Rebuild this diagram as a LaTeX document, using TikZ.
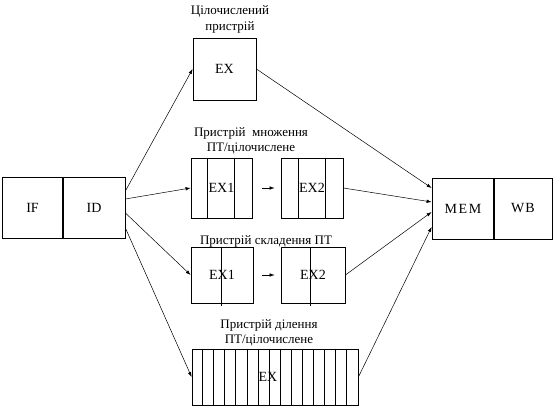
\documentclass[tikz,border=0pt]{standalone}
\usepackage{fontspec}
\setmainfont{Liberation Serif}
\usetikzlibrary{arrows.meta}
\begin{document}
\begin{tikzpicture}[x=1pt, y=-1pt, line width=0.8pt, every node/.style={inner sep=0pt}, stage/.style={rectangle, draw, minimum width=62pt, minimum height=60pt, font=\fontsize{14}{16}\selectfont}, caption/.style={align=center, font=\fontsize{13}{15.5}\selectfont}, link/.style={line width=0.5pt, -{Latex[length=5pt, width=3.5pt]}}]
      \useasboundingbox (0,0) rectangle (553,419);
      \node[stage, minimum width=61pt, minimum height=61pt] (if) at (32.5,207.5) {IF};
      \node[stage, minimum height=61pt] (id) at (94,207.5) {ID};
      \draw[line width=1.6pt] (id.north west) -- (id.south west);
      \node[stage, minimum width=63pt, minimum height=62pt] (intex) at (224.5,69) {EX};
      \node[caption] (intcap) at (230,19.5) {Цілочислений\\пристрій};
      \node[stage, minimum width=61pt] (mulexa) at (221.5,188) {EX1};
      \node[stage] (mulexb) at (312,188) {EX2};
      \node[caption] (mulcap) at (251,141) {Пристрій\enspace множення\\ПТ/цілочислене};
      \foreach \s in {17,44} \draw ([xshift=\s pt]mulexa.north west) -- ([xshift=\s pt]mulexa.south west);
      \foreach \s in {18,45} \draw ([xshift=\s pt]mulexb.north west) -- ([xshift=\s pt]mulexb.south west);
      \node[stage, minimum height=56pt] (addexa) at (222,275) {EX1};
      \node[stage, minimum width=64pt, minimum height=56pt] (addexb) at (313,275) {EX2};
      \node[caption] (addcap) at (266,241) {Пристрій складення ПТ};
      \draw ([xshift=31pt]addexa.north west) -- ([xshift=31pt,yshift=-3pt]addexa.south west);
      \draw ([xshift=30pt]addexb.north west) -- ([xshift=30pt,yshift=-3pt]addexb.south west);
      \node[stage, minimum width=166pt, minimum height=56pt] (divex) at (275,377) {};
      \foreach \i in {1,...,14} \draw ([xshift=\i*11.07pt]divex.north west) -- ([xshift=\i*11.07pt]divex.south west);
      \draw[line width=1.6pt] (divex.south west) -- (divex.south east);
      \node[font=\fontsize{14}{16}\selectfont] (divtxt) at (268,377) {EX};
      \node[caption] (divcap) at (269,333) {Пристрій ділення\\ПТ/цілочислене};
      \node[stage, minimum height=61pt] (mem) at (463,208.5) {\addfontfeature{LetterSpace=12}MEM};
      \node[stage, minimum width=58pt, minimum height=61pt] (wb) at (523,208.5) {\addfontfeature{LetterSpace=8}WB};
      \draw[line width=1.6pt] (wb.north west) -- (wb.south west);
      \draw[link] ([yshift=16.5pt]id.east) -- (intex.west);
      \draw[link] ([yshift=8.5pt]id.east) -- (mulexa.west);
      \draw[link] ([yshift=-5.5pt]id.east) -- (addexa.west);
      \draw[link] ([yshift=-20.5pt]id.east) -- (divex.west);
      \draw[link, shorten <=10pt, shorten >=6pt] (mulexa.east) -- (mulexb.west);
      \draw[link, shorten <=9pt, shorten >=6pt] (addexa.east) -- (addexb.west);
      \draw[link] (intex.east) -- ([yshift=20.5pt]mem.west);
      \draw[link] (mulexb.east) -- ([yshift=6.5pt]mem.west);
      \draw[link] (addexb.east) -- ([yshift=-3.5pt]mem.west);
      \draw[link] (divex.east) -- ([yshift=-18.5pt]mem.west);
\end{tikzpicture}
\end{document}
